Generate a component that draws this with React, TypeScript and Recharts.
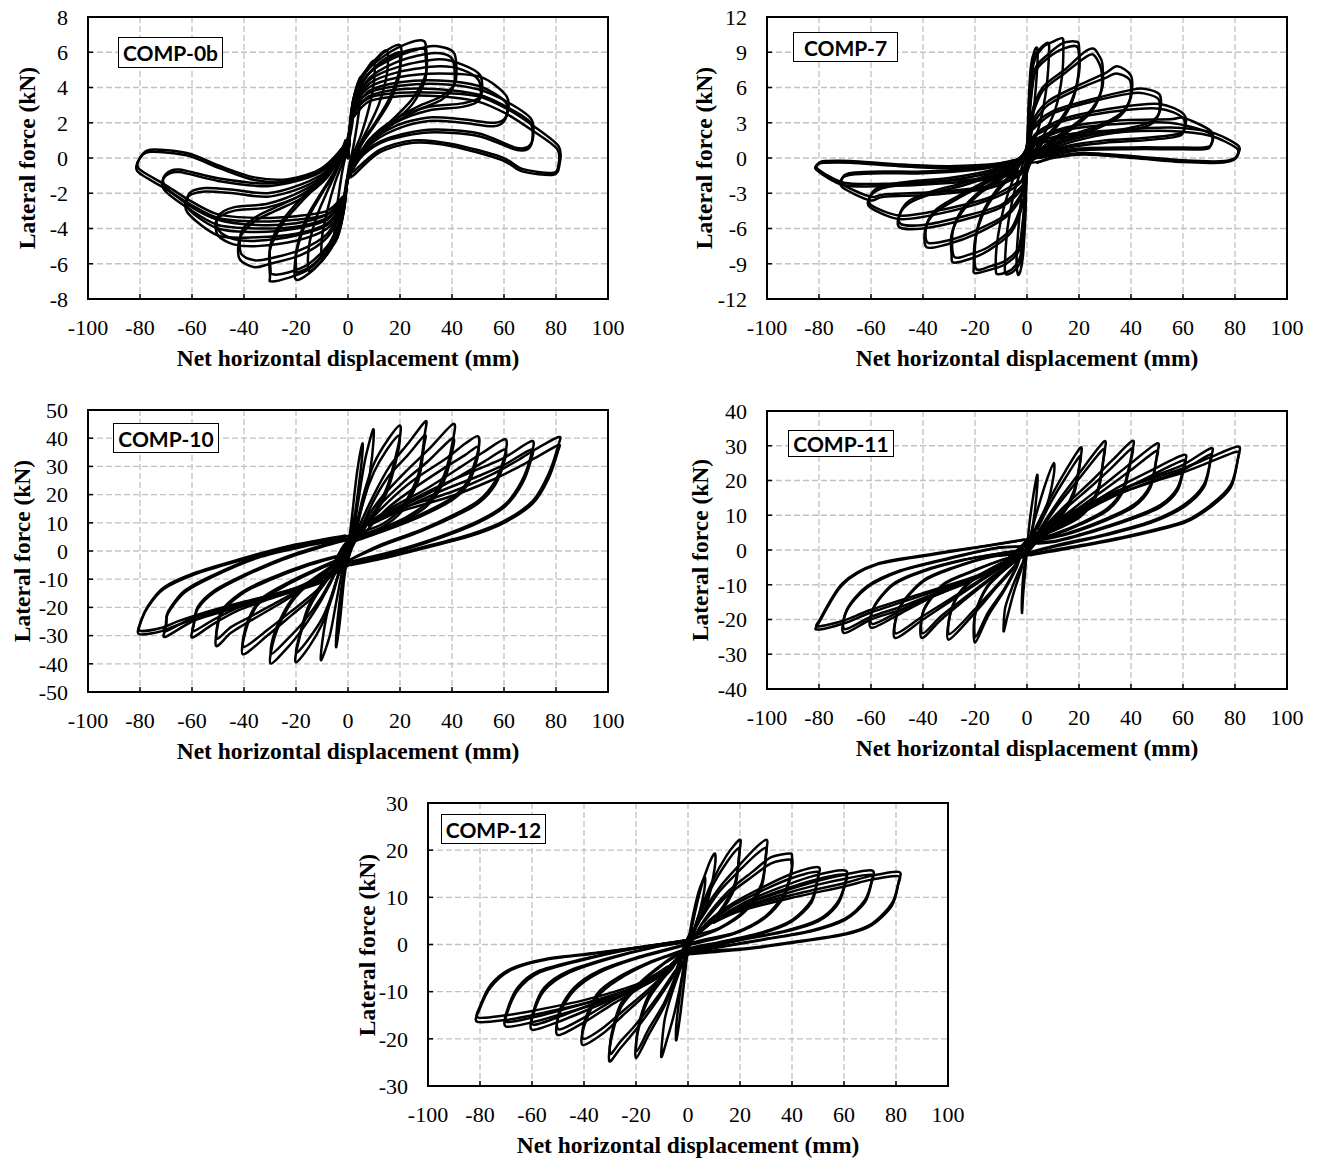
import React from 'react';
import { ScatterChart, Scatter, XAxis, YAxis, CartesianGrid } from 'recharts';

type Pt = [number, number];

const xTicks = [-100, -80, -60, -40, -20, 0, 20, 40, 60, 80, 100];
const yTicks0b = [-8, -6, -4, -2, 0, 2, 4, 6, 8];
const yTicks7 = [-12, -9, -6, -3, 0, 3, 6, 9, 12];
const yTicks10 = [-50, -40, -30, -20, -10, 0, 10, 20, 30, 40, 50];
const yTicks11 = [-40, -30, -20, -10, 0, 10, 20, 30, 40];
const yTicks12 = [-30, -20, -10, 0, 10, 20, 30];

const xTitle = 'Net horizontal displacement (mm)';
const yTitle = 'Lateral force (kN)';

// COMP-0b first cycles (displacement mm, force kN)
const loops0b: Pt[][] = [
  [[0,0],[1,2.4],[3,3.9],[5,4.6],[5,3.6],[3.5,1.9],[2,0.6],[0,-0.8],[-1,-2.4],[-3,-4.0],[-5,-4.7],[-5,-3.7],[-3.5,-2.0],[-2,-0.6],[0,0.8],[1,2.4]],
  [[0,0],[1.5,2.8],[4,4.3],[7,5.0],[10,5.5],[10,4.3],[8,2.8],[5,1.3],[2,0.2],[0,-1.0],[-1.5,-2.9],[-4,-4.5],[-7,-5.2],[-10,-5.7],[-10,-4.5],[-8,-3.0],[-5,-1.4],[-2,-0.2],[0,1.0],[1.5,2.8]],
  [[0,0],[2,3.0],[5,4.5],[10,5.5],[15,6.1],[15,4.8],[12,3.1],[8,1.8],[4,0.6],[0,-1.0],[-2,-3.1],[-5,-4.7],[-10,-5.8],[-15,-6.4],[-15,-5.0],[-12,-3.3],[-8,-1.9],[-4,-0.6],[0,1.0],[2,3.0]],
  [[0,0],[2,3.2],[6,4.7],[13,5.9],[20,6.4],[20,5.1],[16,3.4],[10,1.9],[5,0.8],[0,-1.0],[-2,-3.2],[-6,-5.0],[-13,-6.3],[-20,-6.9],[-20,-5.5],[-16,-3.6],[-10,-2.0],[-5,-0.8],[0,1.0],[2,3.2]],
  [[0,0],[2,3.3],[7,4.9],[15,5.9],[23,6.5],[28.6,6.67],[30,6.3],[30,4.8],[25,3.4],[18,2.3],[10,1.2],[4,0.2],[0,-1.2],[-2,-3.2],[-7,-5.0],[-15,-6.3],[-23,-6.8],[-29.6,-7.0],[-30,-6.7],[-30,-5.2],[-25,-3.7],[-18,-2.5],[-10,-1.3],[-4,-0.2],[0,1.2],[2,3.3]],
  [[0,0],[2,3.0],[8,4.8],[18,5.7],[30,6.3],[36,6.3],[41,5.9],[41.3,4.3],[36,3.5],[28,3.0],[18,2.2],[8,1.0],[2,-0.5],[0,-1.1],[-2,-2.9],[-8,-4.5],[-18,-5.5],[-30,-6.0],[-36,-6.2],[-41.8,-5.7],[-41.5,-4.5],[-36,-3.6],[-28,-3.0],[-18,-2.3],[-8,-1.1],[-2,0.4],[0,1.1],[2,3.0]],
  [[0,0],[2,2.9],[8,4.4],[20,5.2],[35,5.6],[44,5.3],[50.8,4.7],[51,3.5],[44,3.1],[31,2.9],[18,2.2],[8,1.0],[2,-0.6],[0,-1.1],[-2,-2.7],[-8,-4.0],[-20,-4.7],[-35,-5.0],[-44,-4.9],[-50,-4.4],[-50.5,-3.5],[-44,-3.0],[-31,-2.8],[-18,-2.1],[-8,-1.0],[-2,0.4],[0,1.0],[2,2.9]],
  [[0,0],[2,2.7],[8,4.0],[20,4.6],[35,4.8],[51,4.6],[61,3.5],[61,2.4],[56.5,2.0],[44,2.2],[31,2.3],[18,1.8],[8,0.8],[2,-0.6],[0,-1.0],[-2,-2.5],[-8,-3.7],[-20,-4.3],[-35,-4.5],[-50,-4.4],[-61.7,-3.1],[-61.5,-2.2],[-55,-1.9],[-44,-2.0],[-31,-2.2],[-18,-1.7],[-8,-0.8],[-2,0.5],[0,1.0],[2,2.7]],
  [[0,0],[2,2.6],[8,3.7],[20,4.1],[35,4.2],[50,3.9],[61,3.2],[70.5,2.2],[70.6,0.86],[65,0.57],[50,1.4],[31,1.6],[15,1.1],[6,0.3],[0,-1.0],[-2,-2.4],[-8,-3.4],[-20,-3.9],[-35,-4.0],[-50,-3.8],[-61,-2.9],[-70.7,-1.8],[-70.7,-1.1],[-65,-0.8],[-50,-1.3],[-31,-1.6],[-15,-1.1],[-6,-0.3],[0,1.0],[2,2.6]],
  [[0,0],[2,2.4],[8,3.4],[20,3.7],[35,3.7],[50,3.5],[61,2.8],[70.5,1.9],[81,0.67],[81.3,-0.4],[79,-0.95],[67,-0.76],[59,-0.1],[40,0.67],[25,0.86],[12,0.3],[2,-1.0],[0,-1.2],[-2,-2.3],[-8,-3.2],[-20,-3.5],[-35,-3.6],[-50,-3.4],[-61,-2.6],[-70.7,-1.7],[-81,-0.75],[-80,0],[-76,0.47],[-62,0.28],[-49,-0.47],[-36,-1.1],[-23,-1.2],[-10,-0.57],[0,1.0],[2,2.4]],
];

// COMP-0b repeated cycles (inner lines of each bundle)
const repeats0b: Pt[][] = [
  [[2,3.0],[6,4.4],[13,5.5],[19.5,6.0],[20,5.7],[19.8,4.7],[16,3.2],[10,1.8],[5,0.7],[1,-0.8]],
  [[2,3.1],[7,4.6],[15,5.6],[23,6.1],[29,6.2],[29.8,5.9],[29.8,4.5],[25,3.1],[18,2.1],[10,1.1],[4,0.1],[1,-1.0]],
  [[2,2.9],[8,4.5],[18,5.4],[30,5.9],[37,5.9],[40.5,5.5],[40.7,4.1],[36,3.3],[28,2.8],[18,2.0],[8,0.9],[1,-0.8]],
  [[2,2.8],[8,4.2],[20,4.9],[35,5.2],[44,5.0],[50.3,4.4],[50.5,3.3],[44,2.9],[31,2.7],[18,2.0],[8,0.9],[1,-0.8]],
  [[2,2.6],[8,3.8],[20,4.3],[35,4.4],[50,4.1],[60.5,3.2],[60.5,2.2],[56,1.8],[44,2.0],[31,2.1],[18,1.6],[8,0.7],[1,-0.8]],
  [[2,2.5],[8,3.5],[20,3.9],[35,3.9],[50,3.6],[61,2.9],[70.2,2.0],[70.3,0.7],[65,0.45],[50,1.25],[31,1.45],[15,1.0],[6,0.2],[1,-0.8]],
  [[2,2.3],[8,3.2],[20,3.5],[35,3.5],[50,3.2],[61,2.5],[70.5,1.6],[80.5,0.5],[80.8,-0.5],[78.5,-0.85],[67,-0.62],[59,0.05],[40,0.8],[25,1.0],[12,0.45],[2,-0.8]],
  [[-2,-3.0],[-6,-4.7],[-13,-6.0],[-19.5,-6.5],[-20,-6.2],[-19.8,-5.2],[-16,-3.4],[-10,-1.9],[-5,-0.7],[-1,0.8]],
  [[-2,-3.1],[-7,-4.8],[-15,-6.0],[-23,-6.5],[-29,-6.6],[-29.8,-6.3],[-29.8,-4.9],[-25,-3.5],[-18,-2.3],[-10,-1.2],[-4,-0.1],[-1,1.0]],
  [[-2,-2.8],[-8,-4.3],[-18,-5.2],[-30,-5.7],[-36,-5.8],[-41.2,-5.4],[-41,-4.2],[-36,-3.4],[-28,-2.8],[-18,-2.1],[-8,-1.0],[-1,0.8]],
  [[-2,-2.6],[-8,-3.8],[-20,-4.4],[-35,-4.7],[-44,-4.6],[-49.8,-4.1],[-50,-3.3],[-44,-2.8],[-31,-2.6],[-18,-1.9],[-8,-0.9],[-1,0.8]],
  [[-2,-2.4],[-8,-3.5],[-20,-4.0],[-35,-4.2],[-50,-4.0],[-61.2,-2.9],[-61,-2.0],[-55,-1.7],[-44,-1.8],[-31,-2.0],[-18,-1.5],[-8,-0.7],[-1,0.8]],
  [[-2,-2.3],[-8,-3.2],[-20,-3.7],[-35,-3.8],[-50,-3.5],[-61,-2.7],[-70.3,-1.6],[-70.3,-0.95],[-65,-0.65],[-50,-1.15],[-31,-1.45],[-15,-1.0],[-6,-0.2],[-1,0.8]],
  [[-2,-2.2],[-8,-3.0],[-20,-3.3],[-35,-3.4],[-50,-3.2],[-61,-2.4],[-70.5,-1.5],[-80.5,-0.6],[-79.5,0.1],[-75.5,0.35],[-62,0.15],[-49,-0.6],[-36,-1.25],[-23,-1.35],[-10,-0.7],[-1,0.8]],
];

// COMP-7 first cycles
const loops7: Pt[][] = [
  [[0,0],[0.6,4.5],[1.5,7.8],[3,9.2],[4,9.3],[4,8.0],[3,5.0],[1.5,2.0],[0,-0.8],[-0.6,-4.8],[-1.5,-8.2],[-2.5,-9.6],[-3.5,-9.9],[-4,-8.5],[-3,-5.2],[-1.5,-2.0],[0,0.8],[0.6,4.5]],
  [[0,0],[0.8,4.5],[2,8.2],[5,9.3],[8,9.8],[8.5,9.2],[7.5,6.0],[5,3.0],[2,0.8],[0,-1.0],[-0.8,-4.8],[-2,-8.5],[-5,-9.6],[-8,-9.9],[-8.5,-9.2],[-7.5,-6.0],[-5,-3.0],[-2,-0.8],[0,1.0],[0.8,4.5]],
  [[0,0],[1,4.2],[2.5,8.0],[6,9.4],[10,9.9],[13.5,10.2],[14,9.6],[13.5,7.0],[11,4.2],[7,2.2],[3,0.6],[0,-1.0],[-1,-4.5],[-2.5,-8.3],[-6,-9.5],[-11,-9.9],[-12,-9.5],[-11.5,-7.2],[-9,-4.3],[-6,-2.2],[-3,-0.6],[0,1.0],[1,4.2]],
  [[0,0],[1,4.0],[3,7.5],[8,8.8],[14,9.8],[19,9.9],[20,9.5],[20,7.2],[17,4.8],[12,3.0],[6,1.5],[2,0.3],[0,-1.2],[-1,-4.2],[-3,-7.8],[-8,-9.0],[-14,-9.5],[-20,-9.8],[-20.5,-9.3],[-20,-7.0],[-17,-4.8],[-12,-3.0],[-6,-1.5],[-2,-0.3],[0,1.2],[1,4.0]],
  [[0,0],[1.5,3.5],[6,6.0],[15,7.6],[22,9.0],[25.7,9.3],[28,8.6],[29,8.0],[29,6.0],[25,4.2],[18,2.8],[10,1.6],[4,0.5],[0,-1.2],[-1.5,-3.8],[-6,-6.3],[-15,-7.9],[-22,-8.6],[-28.3,-8.9],[-29,-8.3],[-29,-6.5],[-25,-4.6],[-18,-3.0],[-10,-1.8],[-4,-0.6],[0,1.0],[1.5,3.5]],
  [[0,0],[2,3.0],[8,4.8],[20,6.2],[30,7.2],[34.7,7.8],[40,7.0],[40,5.2],[36,3.8],[28,2.8],[18,2.0],[8,1.0],[2,0],[0,-1.0],[-2,-3.2],[-8,-5.0],[-20,-6.5],[-30,-7.3],[-38.6,-7.6],[-39,-5.9],[-35,-4.6],[-27,-3.5],[-17,-2.3],[-8,-1.2],[-2,0],[0,0.8],[2,3.0]],
  [[0,0],[2,2.5],[10,4.0],[25,5.0],[40,5.8],[45,5.9],[51,5.4],[51,3.9],[47,3.0],[38,2.5],[25,2.0],[12,1.2],[4,0.2],[0,-0.8],[-2,-2.6],[-10,-4.2],[-25,-5.3],[-40,-6.0],[-49,-5.9],[-49,-4.8],[-45,-3.8],[-36,-3.0],[-24,-2.3],[-12,-1.4],[-4,-0.3],[0,0.5],[2,2.5]],
  [[0,0],[3,2.0],[15,3.4],[35,4.3],[51,4.6],[60.4,3.7],[60.5,2.4],[57,2.0],[45,1.7],[30,1.5],[15,1.0],[5,0.2],[0,-0.6],[-3,-2.2],[-15,-3.6],[-35,-4.8],[-49,-5.2],[-60.4,-4.2],[-60.4,-3.3],[-56,-2.6],[-45,-2.2],[-30,-1.9],[-15,-1.3],[-5,-0.4],[0,0.4],[3,2.0]],
  [[0,0],[3,1.5],[15,2.6],[35,3.2],[55,3.3],[60.4,3.4],[70.7,2.3],[71,1.2],[68,0.9],[55,0.9],[40,0.9],[20,0.8],[6,0.2],[0,-0.5],[-3,-1.5],[-15,-2.6],[-35,-3.1],[-55,-3.3],[-60.4,-3.6],[-71,-2.5],[-71,-1.7],[-67,-1.4],[-55,-1.3],[-40,-1.3],[-20,-1.0],[-6,-0.4],[0,0.3],[3,1.5]],
  [[0,0],[3,1.2],[15,2.0],[35,2.4],[55,2.6],[70.7,2.2],[81,1.1],[81.5,0.5],[80,0],[74.5,-0.28],[60,-0.2],[41,0.14],[22,0.42],[10,0.1],[5,-0.3],[0,-0.5],[-3,-1.2],[-15,-1.8],[-35,-2.2],[-55,-2.4],[-70.7,-2.3],[-81,-1.0],[-80,-0.5],[-78,-0.4],[-68,-0.4],[-49,-0.7],[-30,-0.85],[-10,-0.57],[0,0],[3,1.2]],
];

// COMP-7 repeated cycles
const repeats7: Pt[][] = [
  [[1,3.8],[3,7.2],[8,8.5],[14,9.3],[19.5,9.4],[19.7,7.0],[17,4.6],[12,2.8],[6,1.3],[1,-0.5]],
  [[1.5,3.3],[6,5.7],[15,7.3],[22,8.5],[25.5,8.8],[28.5,7.6],[28.6,5.8],[25,4.0],[18,2.6],[10,1.4],[3,0.2]],
  [[2,2.8],[8,4.5],[20,5.9],[30,6.8],[34.5,7.2],[39.6,6.6],[39.6,5.0],[36,3.6],[28,2.6],[18,1.8],[8,0.8],[2,-0.2]],
  [[2,2.4],[10,3.8],[25,4.8],[40,5.5],[45,5.5],[50.6,5.0],[50.6,3.7],[47,2.8],[38,2.3],[25,1.8],[12,1.0],[3,0]],
  [[3,1.9],[15,3.2],[35,4.0],[51,4.2],[60,3.4],[60.1,2.2],[57,1.8],[45,1.5],[30,1.3],[15,0.85],[4,0]],
  [[3,1.4],[15,2.4],[35,2.9],[55,3.0],[70.3,2.1],[70.6,1.05],[68,0.75],[55,0.75],[40,0.75],[20,0.65],[5,0]],
  [[3,1.1],[15,1.8],[35,2.2],[55,2.3],[70.5,1.9],[80.6,0.85],[81,0.3],[79.5,-0.15],[74,-0.4],[60,-0.35],[41,0.0],[22,0.3],[10,0],[4,-0.4]],
  [[-1,-4.0],[-3,-7.5],[-8,-8.7],[-14,-9.2],[-19.7,-9.4],[-19.7,-6.8],[-17,-4.6],[-12,-2.8],[-6,-1.3],[-1,0.5]],
  [[-1.5,-3.6],[-6,-6.0],[-15,-7.6],[-22,-8.2],[-28,-8.4],[-28.6,-6.3],[-25,-4.4],[-18,-2.8],[-10,-1.6],[-3,-0.2]],
  [[-2,-3.0],[-8,-4.8],[-20,-6.2],[-30,-7.0],[-38.2,-7.2],[-38.6,-5.7],[-35,-4.4],[-27,-3.3],[-17,-2.1],[-8,-1.0],[-2,0.2]],
  [[-2,-2.4],[-10,-4.0],[-25,-5.0],[-40,-5.7],[-48.6,-5.6],[-48.6,-4.6],[-45,-3.6],[-36,-2.8],[-24,-2.1],[-12,-1.2],[-3,0]],
  [[-3,-2.0],[-15,-3.4],[-35,-4.5],[-49,-4.9],[-60,-4.0],[-60,-3.1],[-56,-2.4],[-45,-2.0],[-30,-1.7],[-15,-1.1],[-4,-0.2]],
  [[-3,-1.4],[-15,-2.4],[-35,-2.9],[-55,-3.1],[-60,-3.3],[-70.6,-2.3],[-70.6,-1.55],[-67,-1.25],[-55,-1.15],[-40,-1.15],[-20,-0.85],[-5,-0.2]],
  [[-3,-1.1],[-15,-1.7],[-35,-2.0],[-55,-2.2],[-70.5,-2.1],[-80.6,-0.9],[-79.6,-0.35],[-77.5,-0.25],[-68,-0.25],[-49,-0.55],[-30,-0.7],[-10,-0.45],[-2,0]],
];

// COMP-10 first cycles
const loops10: Pt[][] = [
  [[0,0],[1.5,12],[3.5,28],[5.5,38],[5.5,34],[4,22],[2.5,12],[0.5,2],[-1.5,-10],[-3,-24],[-4.5,-34],[-4.5,-30],[-3.5,-20],[-2,-10],[0,0]],
  [[0,-3],[2,6],[4,18],[6.5,32],[9.6,43],[9.8,39],[8.5,28],[7,21],[4,11.8],[1.5,6],[0,3],[-2,-6],[-4.5,-18],[-7,-30],[-10.3,-38.7],[-10,-33],[-8,-22],[-5,-12],[-2.5,-6],[0,-3]],
  [[0,-3],[3,8],[6,20],[10,31],[15,39],[19.9,44.5],[19.7,39],[15.4,23.6],[10.3,14.2],[5,8],[2.6,6],[0,4],[-3,-6],[-6,-16],[-10,-26],[-15,-34],[-20,-39.5],[-19.5,-34],[-15.4,-21.3],[-10.3,-13],[-5,-7],[0,-3]],
  [[0,-3],[4,8],[10,20],[16,30],[23,38],[29.8,46],[29.5,41.3],[27,27],[20.6,15.3],[12.9,9.4],[2.6,5.9],[0,4],[-4,-6],[-10,-17],[-17,-27],[-23,-34],[-29.8,-39.9],[-28.3,-30.7],[-23,-20],[-16.7,-13],[-8,-7],[0,-3]],
  [[0,-2],[5,8],[12,18],[22,28],[31,36],[40.5,45.1],[40.3,39],[37,27],[31,17.7],[22,11.8],[10,7],[0,3.5],[-5,-6],[-12,-15],[-22,-23],[-31,-30],[-40.5,-36.6],[-38.6,-26],[-33.4,-17.7],[-23,-11.8],[-10,-6],[0,-2]],
  [[0,-1],[6,8],[15,17],[25,25],[38,33],[45,38],[50,40.7],[50,35.4],[46,24.8],[40,18.9],[28,13],[15,8],[0,3.5],[-6,-5],[-15,-12],[-25,-18],[-38,-25],[-45,-29],[-50.8,-33.6],[-48.8,-22.4],[-41,-15.3],[-30.8,-10.6],[-15,-5],[0,-1]],
  [[0,4],[8,10],[18,16],[30,22],[42,29],[52,35],[60.4,39.6],[60.4,34.2],[56.6,24.8],[50,17.7],[41,13],[28,7.5],[12,2],[0,-3.5],[-8,-8],[-18,-13],[-30,-17],[-42,-21],[-52,-26],[-59.8,-30.7],[-59.5,-27],[-57.8,-20.5],[-51.4,-14.6],[-41,-9.4],[-25,-3],[-10,1.5],[0,4]],
  [[0,4.5],[10,11],[20,16],[35,23],[50,29],[60,33],[70.7,39],[70.5,34.2],[66.8,24.8],[60.4,16.5],[50,10.6],[35,5],[18,0],[0,-4.2],[-10,-10],[-20,-14],[-35,-18],[-50,-22],[-60,-25],[-70.4,-30.5],[-70,-27],[-69.4,-22.4],[-63,-14.8],[-52.7,-9.4],[-35,-2.5],[-15,2],[0,4.5]],
  [[0,5.3],[10,11],[20,15],[40,21],[55,27],[65,32],[72,36],[81,40.4],[81,37.8],[77,27],[71,17.7],[60,10.6],[47,5.9],[28,1.2],[15,-1.8],[1,-4.7],[-10,-11],[-20,-14],[-40,-19],[-55,-23],[-65,-26],[-72,-28.5],[-80.3,-29.5],[-80,-26],[-77,-20],[-71,-13.6],[-59,-8.3],[-42,-3.5],[-23,1.2],[0,5.3]],
];

// COMP-10 repeated cycles
const repeats10: Pt[][] = [
  [[3,6],[6,18],[10,28],[15,36],[19.6,41],[19.4,36],[15.4,22],[10.3,13],[5,7],[1,3]],
  [[4,6],[10,18],[16,27],[23,34],[29.5,41],[29.2,37],[27,25],[20.6,14],[12.9,8.4],[3,5]],
  [[5,6],[12,16],[22,25],[31,32],[40.2,40],[40,35],[37,25],[31,16.5],[22,11],[10,6.5],[1,3]],
  [[6,6],[15,15],[25,22],[38,30],[45,34],[49.8,37],[49.8,33],[46,23.5],[40,18],[28,12.3],[15,7.5],[1,3]],
  [[8,9],[18,14.5],[30,20],[42,26],[52,31.5],[60.2,36],[60.2,32],[56.6,23.5],[50,16.8],[41,12.3],[28,7],[12,1.5],[1,-3]],
  [[10,10],[20,14.5],[35,21],[50,26.5],[60,30.5],[70.5,36],[70.3,32],[66.8,23.5],[60.4,15.8],[50,10],[35,4.5],[18,-0.5],[1,-4]],
  [[10,10],[20,14],[40,19.5],[55,25],[65,29.5],[72,33],[80.8,37.5],[80.8,35.5],[77,25.5],[71,16.8],[60,10],[47,5.3],[28,0.7],[15,-2.3],[1,-5]],
  [[-3,-6],[-6,-15],[-10,-24],[-15,-31],[-19.7,-36],[-19.2,-32],[-15.4,-20],[-10.3,-12],[-5,-6.5],[-1,-3]],
  [[-4,-6],[-10,-16],[-17,-25],[-23,-31],[-29.5,-36.5],[-28.3,-29],[-23,-19],[-16.7,-12.3],[-8,-6.5],[-1,-3]],
  [[-5,-6],[-12,-14],[-22,-21.5],[-31,-28],[-40.2,-34],[-38.6,-25],[-33.4,-17],[-23,-11.2],[-10,-5.5],[-1,-2]],
  [[-6,-5],[-15,-11.5],[-25,-17],[-38,-23.5],[-45,-27],[-50.5,-31],[-48.8,-21.5],[-41,-14.7],[-30.8,-10],[-15,-4.5],[-1,-1]],
  [[-8,-7.5],[-18,-12.3],[-30,-16.2],[-42,-20],[-52,-24.5],[-59.5,-28.5],[-59.2,-25.5],[-57.8,-19.8],[-51.4,-14],[-41,-8.9],[-25,-2.5],[-10,2],[-1,3.8]],
  [[-10,-9.5],[-20,-13.5],[-35,-17],[-50,-21],[-60,-23.8],[-70.2,-28.5],[-69.8,-25.5],[-69.2,-21.5],[-63,-14.2],[-52.7,-8.9],[-35,-2],[-15,2.5],[-1,4.3]],
  [[-10,-10.5],[-20,-13.3],[-40,-18],[-55,-21.8],[-65,-24.8],[-72,-27.3],[-80,-28.3],[-79.7,-25],[-76.8,-19.3],[-71,-13],[-59,-7.8],[-42,-3],[-23,1.7],[-1,5.5]],
];

// COMP-11 first cycles
const loops11: Pt[][] = [
  [[0,0],[1,8],[2.5,16],[3.9,21.6],[4,19],[3,11],[1.5,4],[0,0],[-0.8,-7],[-1.5,-13],[-1.9,-18.1],[-2,-15],[-1.5,-8],[-0.5,-2],[0,0]],
  [[0,-1],[2,6],[5,14],[8,21],[10.3,25],[10.3,21.6],[7.7,13],[3.9,7.3],[1.3,3.4],[0,2],[-2,-5],[-5,-12],[-7.5,-19],[-9,-23.4],[-8.4,-16.7],[-5.8,-10.9],[-2.6,-5.2],[0,-1]],
  [[0,-1],[4,7],[9,15],[15,23],[20.6,29.5],[20.6,26.4],[18,16.9],[12.9,10.2],[5.1,5.4],[0,3],[-4,-5],[-9,-12],[-15,-19],[-20,-26.7],[-20,-18.6],[-15.4,-10.9],[-7.7,-5.2],[0,-1]],
  [[0,-1],[5,6],[12,14],[20,22],[29.6,31.2],[29.6,27.4],[27,16.9],[20.6,10.2],[11.6,6.3],[0,3],[-5,-5],[-12,-11],[-20,-18],[-30.2,-25.8],[-28.9,-16.7],[-23,-10],[-12.9,-5.2],[0,-1]],
  [[0,-1],[6,6],[15,13],[25,20],[33,26],[40.5,31.4],[40.5,28.4],[37,17.8],[31,12],[22,8.2],[10,4.5],[0,2.5],[-6,-4],[-15,-9],[-25,-15],[-33,-20],[-40.5,-25.3],[-39.8,-17.6],[-32,-10],[-20.6,-6.1],[-10,-3],[0,-1]],
  [[0,-1],[8,6],[18,12],[30,19],[40,25],[50,30.7],[50,27.4],[47.5,18.8],[41,13],[28,8.2],[14,4.5],[0,2.5],[-8,-4],[-18,-9],[-30,-15],[-40,-20],[-50.8,-25.3],[-49,-16.7],[-39.8,-9],[-28.3,-5.2],[-14,-2],[0,-1]],
  [[0,0],[10,6],[22,12],[35,18],[48,23],[60.4,27.4],[60.4,24.5],[57.8,17.8],[51.4,13],[40,9.2],[25,5.5],[10,2.5],[0,2],[-10,-4],[-22,-9],[-35,-13],[-48,-18],[-59.8,-22.4],[-59,-16.7],[-51.4,-10],[-39.8,-6.1],[-25,-3],[-10,-1],[0,0]],
  [[0,1],[10,7],[22,12],[35,17],[48,21],[60,24.5],[70.7,29.3],[70.7,26.4],[68,18.8],[60.4,13],[47.5,8.2],[30,4.5],[12,1.5],[0,-1],[-10,-5],[-22,-9],[-35,-13],[-48,-17],[-60,-20],[-70.4,-23.9],[-69.4,-17.6],[-61.7,-10.9],[-48.8,-6.1],[-30,-2.5],[-12,0.5],[0,1]],
  [[0,3],[10,8],[20,12],[30,15.5],[40,18.5],[50,21],[60,23.5],[70,26.5],[81,29.8],[81.3,26.9],[78.4,18.8],[70.7,13],[60.4,8.2],[41,4.4],[21.8,1.5],[1.3,-1.3],[-10,-4.5],[-20,-8],[-40,-13],[-60,-18],[-70,-21],[-80.7,-22.9],[-79.7,-20.5],[-71,-10],[-57.8,-4.2],[-36,-1.3],[-15,1.2],[0,3]],
];

// COMP-11 repeated cycles
const repeats11: Pt[][] = [
  [[4,6],[9,13.5],[15,21],[20.3,27],[20.3,24.5],[18,16],[12.9,9.6],[5.1,5],[1,2.8]],
  [[5,5.5],[12,13],[20,20.5],[29.3,29],[29.3,25.5],[27,16],[20.6,9.6],[11.6,6],[1,2.8]],
  [[6,5.5],[15,12],[25,18.5],[33,24],[40.2,29.2],[40.2,26.5],[37,17],[31,11.4],[22,7.8],[10,4.2],[1,2.3]],
  [[8,5.5],[18,11],[30,17.5],[40,23],[49.7,28.5],[49.7,25.8],[47.5,18],[41,12.4],[28,7.8],[14,4.2],[1,2.3]],
  [[10,5.5],[22,11],[35,16.5],[48,21.5],[60.2,25.8],[60.2,23.2],[57.8,17],[51.4,12.4],[40,8.8],[25,5.2],[10,2.3],[1,1.8]],
  [[10,6.5],[22,11.2],[35,16],[48,19.8],[60,23],[70.4,27.5],[70.4,25],[68,18],[60.4,12.4],[47.5,7.8],[30,4.2],[12,1.2],[1,-0.8]],
  [[10,7.5],[20,11.3],[30,14.6],[40,17.5],[50,20],[60,22.3],[70,25.2],[80.7,28.3],[81,25.8],[78.4,18],[70.7,12.4],[60.4,7.8],[41,4.1],[21.8,1.2],[1.3,-1.5]],
  [[-4,-4.8],[-9,-11.5],[-15,-18],[-19.8,-25],[-19.8,-18],[-15.4,-10.5],[-7.7,-5],[-1,-1]],
  [[-5,-4.8],[-12,-10.5],[-20,-17],[-29.9,-24.2],[-28.7,-16.2],[-23,-9.7],[-12.9,-5],[-1,-1]],
  [[-6,-3.8],[-15,-8.6],[-25,-14.3],[-33,-19],[-40.2,-24],[-39.6,-17],[-32,-9.7],[-20.6,-5.9],[-10,-2.9],[-1,-1]],
  [[-8,-3.8],[-18,-8.6],[-30,-14.3],[-40,-19],[-50.5,-24],[-48.8,-16.2],[-39.8,-8.7],[-28.3,-5],[-14,-1.9],[-1,-1]],
  [[-10,-3.8],[-22,-8.6],[-35,-12.4],[-48,-17.2],[-59.5,-21.3],[-58.8,-16.2],[-51.4,-9.7],[-39.8,-5.9],[-25,-2.9],[-10,-0.9],[-1,0]],
  [[-10,-4.8],[-22,-8.6],[-35,-12.4],[-48,-16.2],[-60,-19.2],[-70.1,-22.8],[-69.2,-17],[-61.7,-10.5],[-48.8,-5.9],[-30,-2.3],[-12,0.6],[-1,1]],
  [[-10,-4.3],[-20,-7.6],[-40,-12.4],[-60,-17.2],[-70,-20.2],[-80.4,-22],[-79.5,-19.8],[-71,-9.6],[-57.8,-4],[-36,-1.1],[-15,1.3],[-1,3]],
];

// COMP-12 first cycles
const loops12: Pt[][] = [
  [[0,0],[1.5,5],[4,11],[6.4,14.3],[6.4,12],[4.5,7],[2,2.5],[0,-1],[-1.5,-8],[-3,-15],[-4.5,-20.3],[-4.5,-17],[-3,-10],[-1.5,-4],[0,0]],
  [[0,-1],[2,5],[5,12],[8,17],[10.3,19.3],[10.3,16.4],[7.7,9.4],[3.9,4.4],[0,1.5],[-2,-6],[-5,-14],[-8,-20],[-10.3,-23.8],[-9,-16],[-5.8,-9.7],[-2.6,-4.7],[0,-1]],
  [[0,-1],[4,6],[9,13],[15,19],[19.9,22.2],[19.9,20],[18,12.9],[11.6,6.6],[4,2.5],[0,1.5],[-4,-6],[-9,-13],[-15,-19],[-20,-24.1],[-19.4,-18.8],[-15.4,-11.8],[-9,-6.8],[-3,-2.5],[0,-1]],
  [[0,-1],[5,6],[12,12],[20,17],[26,20.5],[30.2,22.2],[30.2,20],[28.3,12.9],[21.8,7.3],[12,3.5],[0,1],[-5,-6],[-12,-12],[-20,-18],[-26,-22],[-30.2,-24.8],[-29.6,-20.3],[-25.7,-13.2],[-18,-8.3],[-9,-4],[0,-1]],
  [[0,-1],[6,5],[15,11],[25,15.5],[32,18.5],[39.2,19.3],[40,18.5],[40,16.3],[37,10.8],[29.6,5.9],[18,2.5],[0,0],[-6,-5],[-15,-10],[-25,-15],[-33,-19],[-40.5,-21.3],[-40,-17.4],[-34.7,-11],[-27,-7.5],[-15,-4],[0,-1]],
  [[0,0],[8,5],[18,9],[30,12.5],[40,15],[50,16.4],[50,14.3],[47.5,9.4],[40,5.2],[28,2.5],[12,0.5],[0,-1],[-8,-5],[-18,-9],[-30,-13],[-40,-16.5],[-50.1,-19.2],[-49.4,-14.6],[-43.7,-9.7],[-34.7,-6.1],[-20,-3],[0,0]],
  [[0,0.5],[10,5],[22,9],[35,12],[48,14.5],[60.4,15.7],[60.4,13],[57.2,8.7],[50,5.2],[38,3],[20,1],[0,-1.5],[-10,-6],[-22,-10],[-35,-13],[-48,-16],[-59.8,-18.1],[-59.4,-14.6],[-55.2,-9.7],[-46.3,-6.1],[-30,-3],[-12,-0.5],[0,0.5]],
  [[0,0.8],[10,5],[22,8.5],[35,11],[50,13.5],[60,14.8],[70.7,15.7],[70.7,13.6],[68,9.4],[60.4,5.5],[47.5,3],[30,1.2],[12,-0.5],[0,-1.8],[-10,-6.5],[-22,-10],[-35,-12.5],[-50,-15],[-60,-16.5],[-70,-17.4],[-69.6,-14.6],[-65.5,-9.7],[-57.8,-6.1],[-42,-3.5],[-22,-1],[0,0.8]],
  [[0,0.9],[10,5],[20,7.5],[40,10.5],[60,13],[70,14.5],[81,15.4],[81,13.3],[78.4,8.7],[70.7,4.4],[60.4,2.3],[41,0.56],[21.8,-0.85],[1.3,-1.9],[-10,-6],[-20,-9],[-40,-12.5],[-60,-15],[-70,-16],[-81,-16.4],[-80.3,-13.9],[-75.8,-9],[-68,-5.4],[-55.2,-3.3],[-36,-1.9],[-15,-0.3],[0,0.9]],
];

// COMP-12 repeated cycles
const repeats12: Pt[][] = [
  [[4,5.5],[9,12],[15,17.5],[19.6,20.5],[19.6,18.5],[18,12],[11.6,6.2],[4,2.3],[1,1.3]],
  [[5,5.5],[12,11.2],[20,15.8],[26,19],[29.9,20.5],[29.9,18.7],[28.3,12.2],[21.8,6.9],[12,3.3],[1,1]],
  [[6,4.7],[15,10.3],[25,14.5],[32,17.2],[39,18],[39.8,17.2],[39.8,15.3],[37,10.2],[29.6,5.6],[18,2.3],[1,0]],
  [[8,4.7],[18,8.5],[30,11.8],[40,14.1],[49.7,15.4],[49.7,13.5],[47.5,8.9],[40,4.9],[28,2.3],[12,0.4],[1,-1]],
  [[10,4.7],[22,8.5],[35,11.3],[48,13.6],[60.2,14.8],[60.2,12.3],[57.2,8.2],[50,4.9],[38,2.8],[20,0.9],[1,-1.5]],
  [[10,4.7],[22,8],[35,10.4],[50,12.7],[60,13.9],[70.5,14.8],[70.5,12.9],[68,8.9],[60.4,5.2],[47.5,2.8],[30,1.1],[12,-0.6],[1,-1.8]],
  [[10,4.7],[20,7.1],[40,9.9],[60,12.3],[70,13.7],[80.8,14.5],[80.8,12.6],[78.4,8.2],[70.7,4.1],[60.4,2.1],[41,0.4],[21.8,-1],[1.3,-2]],
  [[-4,-5.6],[-9,-12.2],[-15,-17.8],[-19.7,-22.6],[-19.2,-17.7],[-15.4,-11.1],[-9,-6.4],[-3,-2.4],[-1,-1]],
  [[-5,-5.6],[-12,-11.3],[-20,-16.9],[-26,-20.6],[-29.9,-23.2],[-29.4,-19],[-25.7,-12.4],[-18,-7.8],[-9,-3.8],[-1,-1]],
  [[-6,-4.7],[-15,-9.4],[-25,-14.1],[-33,-17.8],[-40.2,-20],[-39.8,-16.3],[-34.7,-10.3],[-27,-7],[-15,-3.8],[-1,-1]],
  [[-8,-4.7],[-18,-8.5],[-30,-12.2],[-40,-15.5],[-49.8,-18],[-49.2,-13.7],[-43.7,-9.1],[-34.7,-5.7],[-20,-2.8],[-1,0]],
  [[-10,-5.6],[-22,-9.4],[-35,-12.2],[-48,-15],[-59.5,-17],[-59.2,-13.7],[-55.2,-9.1],[-46.3,-5.7],[-30,-2.8],[-12,-0.4],[-1,0.5]],
  [[-10,-6.1],[-22,-9.4],[-35,-11.8],[-50,-14.1],[-60,-15.5],[-69.8,-16.4],[-69.4,-13.7],[-65.5,-9.1],[-57.8,-5.7],[-42,-3.3],[-22,-0.9],[-1,0.8]],
  [[-10,-5.6],[-20,-8.5],[-40,-11.8],[-60,-14.1],[-70,-15],[-80.7,-15.5],[-80,-13.1],[-75.8,-8.5],[-68,-5.1],[-55.2,-3.1],[-36,-1.8],[-15,-0.3],[-1,0.9]],
];

const SERIF = "'Liberation Serif', 'Times New Roman', serif";
const tickStyle = { fontFamily: SERIF, fontSize: 22, fill: '#000' };

// Smooth path through the measured points (Catmull-Rom style curve factory for the line generator)
function smoothCurve(context: any) {
  let pts: [number, number][] = [];
  const k = 1 / 7;
  return {
    areaStart() {},
    areaEnd() {},
    lineStart() {
      pts = [];
    },
    lineEnd() {
      const n = pts.length;
      if (!n) return;
      context.moveTo(pts[0][0], pts[0][1]);
      for (let i = 0; i < n - 1; i++) {
        const p0 = pts[Math.max(i - 1, 0)];
        const p1 = pts[i];
        const p2 = pts[i + 1];
        const p3 = pts[Math.min(i + 2, n - 1)];
        context.bezierCurveTo(
          p1[0] + (p2[0] - p0[0]) * k,
          p1[1] + (p2[1] - p0[1]) * k,
          p2[0] - (p3[0] - p1[0]) * k,
          p2[1] - (p3[1] - p1[1]) * k,
          p2[0],
          p2[1]
        );
      }
    },
    point(x: number, y: number) {
      pts.push([+x, +y]);
    },
  };
}

const Empty = () => <g />;

type PanelProps = {
  name: string;
  loops: Pt[][];
  repeats: Pt[][];
  yTicks: number[];
  plotLeft: number;
  plotTop: number;
  plotH: number;
  box: { x: number; y: number; w: number; h: number };
  yTitleX: number;
};

function Panel(p: PanelProps) {
  const W = 650;
  const H = p.plotH + 67;
  const yMin = p.yTicks[0];
  const yMax = p.yTicks[p.yTicks.length - 1];
  const plotW = 520;
  const all = [...p.loops, ...p.repeats];
  return (
    <>
      <div style={{ position: 'absolute', left: p.plotLeft - 88, top: p.plotTop - 17, width: W, height: H }}>
        <ScatterChart width={W} height={H} margin={{ top: 17, right: 42, bottom: 10, left: 0 }}>
          <CartesianGrid stroke="#c2c2c2" strokeDasharray="6 3" strokeWidth={1.3} />
          <XAxis
            type="number"
            dataKey="x"
            domain={[-100, 100]}
            ticks={xTicks}
            interval={0}
            height={40}
            axisLine={false}
            tickLine={{ stroke: '#000', strokeWidth: 1.5 }}
            tickSize={-5}
            tickMargin={25}
            tick={tickStyle}
            allowDataOverflow
          />
          <YAxis
            type="number"
            dataKey="y"
            domain={[yMin, yMax]}
            ticks={p.yTicks}
            interval={0}
            width={88}
            axisLine={false}
            tickLine={{ stroke: '#000', strokeWidth: 1.5 }}
            tickSize={-5}
            tickMargin={25}
            tick={tickStyle}
            allowDataOverflow
          />
          {all.map((loop, i) => (
            <Scatter
              key={i}
              data={loop.map(([x, y]) => ({ x, y }))}
              line={{ stroke: '#000', strokeWidth: 2.5, fill: 'none', strokeLinejoin: 'round', strokeLinecap: 'round' }}
              lineJointType={smoothCurve as any}
              shape={Empty}
              fill="#000"
              isAnimationActive={false}
            />
          ))}
        </ScatterChart>
      </div>
      <div
        style={{
          position: 'absolute',
          left: p.plotLeft - 1,
          top: p.plotTop - 1,
          width: plotW + 2,
          height: p.plotH + 2,
          border: '2px solid #000',
          boxSizing: 'border-box',
          pointerEvents: 'none',
        }}
      />
      <div
        style={{
          position: 'absolute',
          left: p.box.x,
          top: p.box.y,
          width: p.box.w,
          height: p.box.h,
          border: '1.4px solid #000',
          boxSizing: 'border-box',
          background: '#fff',
          display: 'flex',
          alignItems: 'center',
          justifyContent: 'center',
          fontFamily: "Lato, 'Open Sans', sans-serif",
          fontWeight: 700,
          fontSize: 21,
          color: '#000',
          whiteSpace: 'nowrap',
        }}
      >
        {p.name}
      </div>
      <div
        style={{
          position: 'absolute',
          left: p.plotLeft + plotW / 2 - 250,
          top: p.plotTop + p.plotH + 59 - 15,
          width: 500,
          height: 30,
          lineHeight: '30px',
          textAlign: 'center',
          fontFamily: SERIF,
          fontWeight: 700,
          fontSize: 23.5,
          color: '#000',
          whiteSpace: 'nowrap',
        }}
      >
        {xTitle}
      </div>
      <div
        style={{
          position: 'absolute',
          left: p.yTitleX - 150,
          top: p.plotTop + p.plotH / 2 - 15,
          width: 300,
          height: 30,
          lineHeight: '30px',
          textAlign: 'center',
          transform: 'rotate(-90deg)',
          fontFamily: SERIF,
          fontWeight: 700,
          fontSize: 23.5,
          color: '#000',
          whiteSpace: 'nowrap',
        }}
      >
        {yTitle}
      </div>
    </>
  );
}

export default function App() {
  return (
    <div style={{ position: 'absolute', left: 0, top: 0, width: 1320, height: 1158, background: '#fff', overflow: 'hidden' }}>
      <Panel name="COMP-0b" loops={loops0b} repeats={repeats0b} yTicks={yTicks0b} plotLeft={88} plotTop={17} plotH={282} box={{ x: 118, y: 37, w: 105, h: 31 }} yTitleX={27} />
      <Panel name="COMP-7" loops={loops7} repeats={repeats7} yTicks={yTicks7} plotLeft={767} plotTop={17} plotH={282} box={{ x: 793, y: 32, w: 105, h: 30 }} yTitleX={704} />
      <Panel name="COMP-10" loops={loops10} repeats={repeats10} yTicks={yTicks10} plotLeft={88} plotTop={410} plotH={282} box={{ x: 113, y: 423, w: 106, h: 30 }} yTitleX={22} />
      <Panel name="COMP-11" loops={loops11} repeats={repeats11} yTicks={yTicks11} plotLeft={767} plotTop={411} plotH={278} box={{ x: 788, y: 430, w: 106, h: 27 }} yTitleX={700} />
      <Panel name="COMP-12" loops={loops12} repeats={repeats12} yTicks={yTicks12} plotLeft={428} plotTop={803} plotH={283} box={{ x: 441, y: 814, w: 105, h: 30 }} yTitleX={367} />
    </div>
  );
}
